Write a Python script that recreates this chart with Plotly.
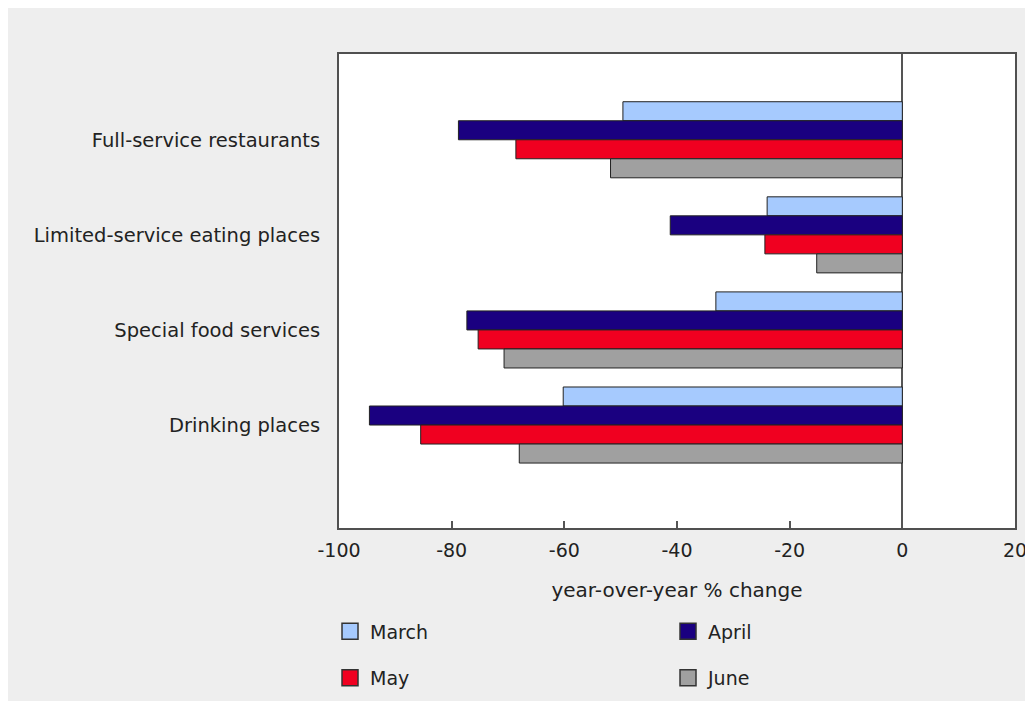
import plotly.graph_objects as go

categories = ["Full-service restaurants", "Limited-service eating places",
              "Special food services", "Drinking places"]
months = ["March", "April", "May", "June"]
march = [-49.6, -24.0, -33.1, -60.2]
april = [-78.8, -41.2, -77.3, -94.6]
may = [-68.6, -24.4, -75.3, -85.5]
june = [-51.8, -15.2, -70.7, -68.0]
series = [march, april, may, june]
colors = ["#a6cafe", "#1a0080", "#f00020", "#a0a0a0"]
x_tickvals = [-100, -80, -60, -40, -20, 0, 20]
x_ticktext = ["-100", "-80", "-60", "-40", "-20", "0", "20"]
x_title = "year-over-year % change"

FONT = "DejaVu Sans"
TXT = "#222222"

fig = go.Figure()
for name, vals, col in zip(months, series, colors):
    fig.add_trace(go.Bar(
        y=categories, x=vals, orientation="h", name=name,
        marker=dict(color=col, line=dict(color="#222222", width=1)),
        showlegend=False,
    ))

# one legend per entry, laid out in a 2 x 2 grid like the original
legend_ids = ["legend", "legend2", "legend3", "legend4"]
for name, col, lg in zip(months, colors, legend_ids):
    fig.add_trace(go.Scatter(
        x=[None], y=[None], mode="markers", name=name,
        marker=dict(symbol="square", size=16, color=col,
                    line=dict(color="#333333", width=1.5)),
        legend=lg, showlegend=True,
    ))

legend_common = dict(
    orientation="h", xanchor="left", yanchor="middle",
    font=dict(family=FONT, size=19, color=TXT),
    bgcolor="rgba(0,0,0,0)", itemsizing="trace", itemclick=False,
    itemdoubleclick=False,
)
col_x = [-0.0133, 0.4867]
row_y = [-0.2183, -0.3161]

fig.update_layout(
    width=1033, height=701,
    margin=dict(l=331, r=26, t=46, b=174),
    paper_bgcolor="#eeeeee", plot_bgcolor="#ffffff",
    barmode="group", bargap=0.2, bargroupgap=0,
    font=dict(family=FONT, size=19, color=TXT),
    legend=dict(x=col_x[0], y=row_y[0], **legend_common),
    legend2=dict(x=col_x[1], y=row_y[0], **legend_common),
    legend3=dict(x=col_x[0], y=row_y[1], **legend_common),
    legend4=dict(x=col_x[1], y=row_y[1], **legend_common),
    xaxis=dict(
        range=[-100, 20], tickvals=x_tickvals, ticktext=x_ticktext,
        ticks="inside", ticklen=7, tickcolor="#555555", tickwidth=1.5,
        showgrid=False, zeroline=True, zerolinecolor="#555555", zerolinewidth=1.5,
        showline=True, mirror=True, linecolor="#505050", linewidth=2,
        tickfont=dict(family=FONT, size=19, color=TXT),
        ticklabelstandoff=4,
        title=dict(text=x_title, standoff=23,
                   font=dict(family=FONT, size=20, color=TXT)),
    ),
    yaxis=dict(
        type="category", categoryorder="array", categoryarray=categories,
        range=[4.083, -0.902],
        showgrid=False, zeroline=False, ticks="",
        showline=True, mirror=True, linecolor="#505050", linewidth=2,
        tickfont=dict(family=FONT, size=19.5, color=TXT),
        ticklabelstandoff=13,
    ),
)

fig.write_html("out.html")
